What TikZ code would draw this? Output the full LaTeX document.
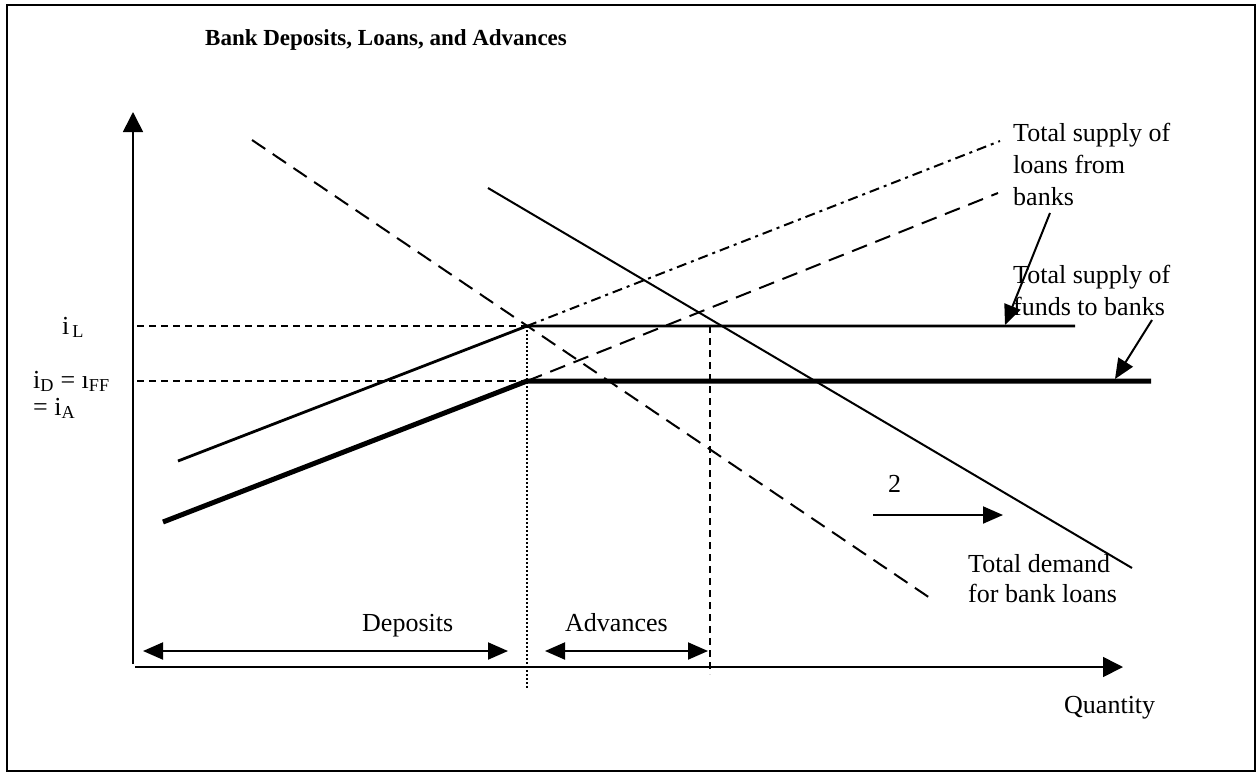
\documentclass[tikz,border=0pt]{standalone}
\usepackage{fontspec}
\setmainfont{Liberation Serif}
\usetikzlibrary{arrows.meta}
\tikzset{
  lbl/.style={inner sep=0pt, anchor=base west, font=\fontsize{26}{30}\selectfont},
  axisline/.style={line width=1.6pt, -{Triangle[length=20pt,width=20pt]}},
  guide/.style={line width=1.3pt, dash pattern=on 7pt off 5pt},
  dotguide/.style={line width=1.3pt, dash pattern=on 1.5pt off 2.5pt},
  loanline/.style={line width=2.8pt},
  fundline/.style={line width=5pt},
  demandline/.style={line width=2pt},
  longdash/.style={line width=2pt, dash pattern=on 16pt off 9pt},
  dashdot/.style={line width=2pt, dash pattern=on 10pt off 5pt on 3pt off 5pt},
  pointer/.style={line width=2pt, -{Triangle[length=20pt,width=17pt]}},
  span/.style={line width=2pt, {Triangle[length=20pt,width=17pt]}-{Triangle[length=20pt,width=17pt]}},
}
\begin{document}
\begin{tikzpicture}[x=1pt,y=-1pt]
\useasboundingbox (0,0) rectangle (1257,774);
% outer frame
\draw[line width=1.8pt] (7,5) rectangle (1255,771);

% title
\node[inner sep=0pt, anchor=base west, font=\fontsize{23}{27}\selectfont\bfseries] (title) at (205,45) {Bank Deposits, Loans, and Advances};

% axes
\coordinate (O) at (133,664);
\coordinate (ytip) at (133,112);
\coordinate (xorig) at (135,667);
\coordinate (xtip) at (1123,667);
\draw[axisline] (O) -- (ytip);
\draw[axisline] (xorig) -- (xtip);

% key points
\coordinate (kL) at (527,326);
\coordinate (kD) at (527,381);
\coordinate (cross) at (710,326);
\coordinate (yL) at (137,326);
\coordinate (yD) at (137,381);

% interest-rate guides
\draw[guide] (yL) -- (kL);
\draw[guide] (yD) -- (kD);
\draw[dotguide] (kL) -- (527,690);
\draw[guide] (cross) -- (710,674);

% supply of loans from banks
\coordinate (sL0) at (178,461);
\coordinate (sL1) at (1075,326);
\draw[loanline] (sL0) -- (kL) -- (sL1);
\draw[dashdot] (kL) -- (1000,141);

% supply of funds to banks
\coordinate (sD0) at (163,522);
\coordinate (sD1) at (1151,381);
\draw[fundline] (sD0) -- (kD) -- (sD1);
\draw[longdash] (kD) -- (998,193);

% demand for bank loans
\draw[longdash] (252,140) -- (930,598);
\draw[demandline] (488,188) -- (1132,568);

% shift of demand
\node[lbl] (two) at (888,492) {2};
\coordinate (sh0) at (873,515);
\coordinate (sh1) at (1003,515);
\draw[pointer] (sh0) -- (sh1);

% spans
\draw[span] (143,651) -- (508,651);
\draw[span] (545,651) -- (708,651);
\node[lbl] (dep) at (362,631) {Deposits};
\node[lbl] (adv) at (565,631) {Advances};

% labels
\node[lbl] (iL) at (62,334) {i\textsubscript{\,L}};
\node[lbl] (iD) at (33,388) {i\textsubscript{D} = \i\textsubscript{FF}};
\node[lbl] (iA) at (33,415) {= i\textsubscript{A}};
\node[lbl] (qty) at (1064,713) {Quantity};

\node[lbl] (sl1) at (1013,141) {Total supply of};
\node[lbl] (sl2) at (1013,173) {loans from};
\node[lbl] (sl3) at (1013,205) {banks};
\node[lbl] (sf1) at (1013,283) {Total supply of};
\node[lbl] (sf2) at (1013,315) {funds to banks};
\node[lbl] (td1) at (968,572) {Total demand};
\node[lbl] (td2) at (968,602) {for bank loans};

% pointers from labels
\draw[pointer] (1050,213) -- (1005,325);
\draw[pointer] (1152,320) -- (1115,379);
\end{tikzpicture}
\end{document}
